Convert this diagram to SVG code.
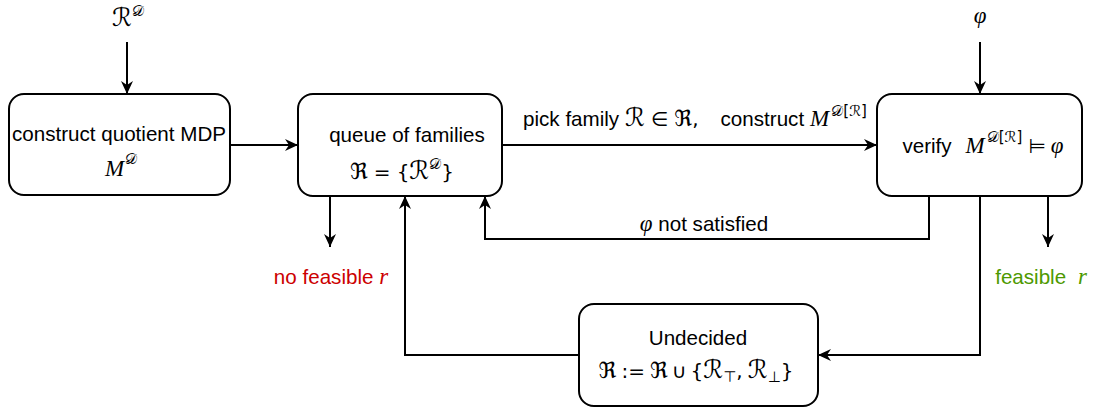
<svg xmlns="http://www.w3.org/2000/svg" width="1094" height="410" viewBox="0 0 1094 410">
<defs>
<marker id="arr" markerUnits="userSpaceOnUse" markerWidth="14" markerHeight="14" refX="13" refY="7" orient="auto">
<path d="M0,1 L13,7 L0,13 L4,7 Z" fill="#000"/>
</marker>
<style>
.box{fill:#fff;stroke:#000;stroke-width:2}
.t{font-family:"Liberation Sans",Arial,sans-serif;font-size:20.6px;fill:#000}
.m{font-family:"Liberation Serif","DejaVu Serif",serif;font-size:23px;font-style:italic}
.cal{font-family:"DejaVu Sans","DejaVu Serif",serif;font-size:25px;font-style:normal}
.fr{font-family:"DejaVu Sans","DejaVu Serif",serif;font-size:22px;font-style:normal}
.sup{font-family:"DejaVu Sans","DejaVu Serif",serif;font-size:15px;font-style:normal}
.op{font-family:"DejaVu Sans",sans-serif;font-size:20px;font-style:normal}
.edge{fill:none;stroke:#000;stroke-width:2}
.red{fill:#cc0000}
.green{fill:#4d9900}
</style>
</defs>
<g id="connectors">
<path class="edge" d="M127,42 V94" marker-end="url(#arr)"/>
<path class="edge" d="M980,42 V94" marker-end="url(#arr)"/>
<path class="edge" d="M230,145 H298" marker-end="url(#arr)"/>
<path class="edge" d="M502,145 H877" marker-end="url(#arr)"/>
<path class="edge" d="M330,196 V247" marker-end="url(#arr)"/>
<path class="edge" d="M929,196 V239 H485 V196" marker-end="url(#arr)"/>
<path class="edge" d="M980,196 V355 H818" marker-end="url(#arr)"/>
<path class="edge" d="M1048,196 V247" marker-end="url(#arr)"/>
<path class="edge" d="M579,355 H405 V196" marker-end="url(#arr)"/>
</g>
<g id="input-R">
<text class="t" x="128" y="26" text-anchor="middle"><tspan class="cal">ℛ</tspan><tspan class="sup" dy="-10">𝒟</tspan></text>
</g>
<g id="input-phi">
<text class="t m" x="980" y="23" text-anchor="middle">φ</text>
</g>
<g id="node-quotient">
<rect class="box" x="9" y="94" width="221" height="101" rx="15"/>
<text class="t" x="119" y="141" text-anchor="middle">construct quotient MDP</text>
<text class="t" x="121" y="176" text-anchor="middle"><tspan class="m">M</tspan><tspan class="sup" dx="1" dy="-12">𝒟</tspan></text>
</g>
<g id="node-queue">
<rect class="box" x="298" y="94" width="204" height="102" rx="15"/>
<text class="t" x="407" y="142" text-anchor="middle">queue of families</text>
<text class="t" x="402" y="179" text-anchor="middle"><tspan class="fr">ℜ</tspan><tspan class="op" dx="6">=</tspan><tspan class="op" dx="6">{</tspan><tspan class="cal">ℛ</tspan><tspan class="sup" dy="-10">𝒟</tspan><tspan class="op" dy="10">}</tspan></text>
</g>
<g id="label-pick">
<text class="t" x="695" y="126" text-anchor="middle">pick family <tspan class="cal">ℛ</tspan><tspan class="op" dx="6">∈</tspan><tspan class="fr" dx="6">ℜ</tspan><tspan class="op">,</tspan><tspan dx="22">construct</tspan><tspan class="m" dx="6">M</tspan><tspan class="sup" dx="2" dy="-10">𝒟[ℛ]</tspan></text>
</g>
<g id="node-verify">
<rect class="box" x="877" y="94" width="205" height="102" rx="15"/>
<text class="t" x="983" y="153" text-anchor="middle">verify<tspan class="m" dx="14">M</tspan><tspan class="sup" dx="2" dy="-11">𝒟[ℛ]</tspan><tspan class="op" dx="6" dy="11">⊨</tspan><tspan class="m" dx="5">φ</tspan></text>
</g>
<g id="label-notsat">
<text class="t" x="704" y="231" text-anchor="middle"><tspan class="m">φ</tspan> not satisfied</text>
</g>
<g id="label-nofeasible">
<text class="t red" x="331" y="284" text-anchor="middle">no feasible <tspan class="m">r</tspan></text>
</g>
<g id="label-feasible">
<text class="t green" x="1041" y="284" text-anchor="middle">feasible <tspan class="m" dx="6">r</tspan></text>
</g>
<g id="node-undecided">
<rect class="box" x="579" y="304" width="239" height="102" rx="15"/>
<text class="t" x="698" y="345" text-anchor="middle">Undecided</text>
<text class="t" x="696" y="378" text-anchor="middle"><tspan class="fr">ℜ</tspan><tspan class="op" dx="5">:=</tspan><tspan class="fr" dx="5">ℜ</tspan><tspan class="op" dx="4">∪</tspan><tspan class="op" dx="4">{</tspan><tspan class="cal">ℛ</tspan><tspan class="sup" dy="4">⊤</tspan><tspan class="op" dy="-4">,</tspan><tspan class="cal" dx="5">ℛ</tspan><tspan class="sup" dy="4">⊥</tspan><tspan class="op" dy="-4">}</tspan></text>
</g>
</svg>
